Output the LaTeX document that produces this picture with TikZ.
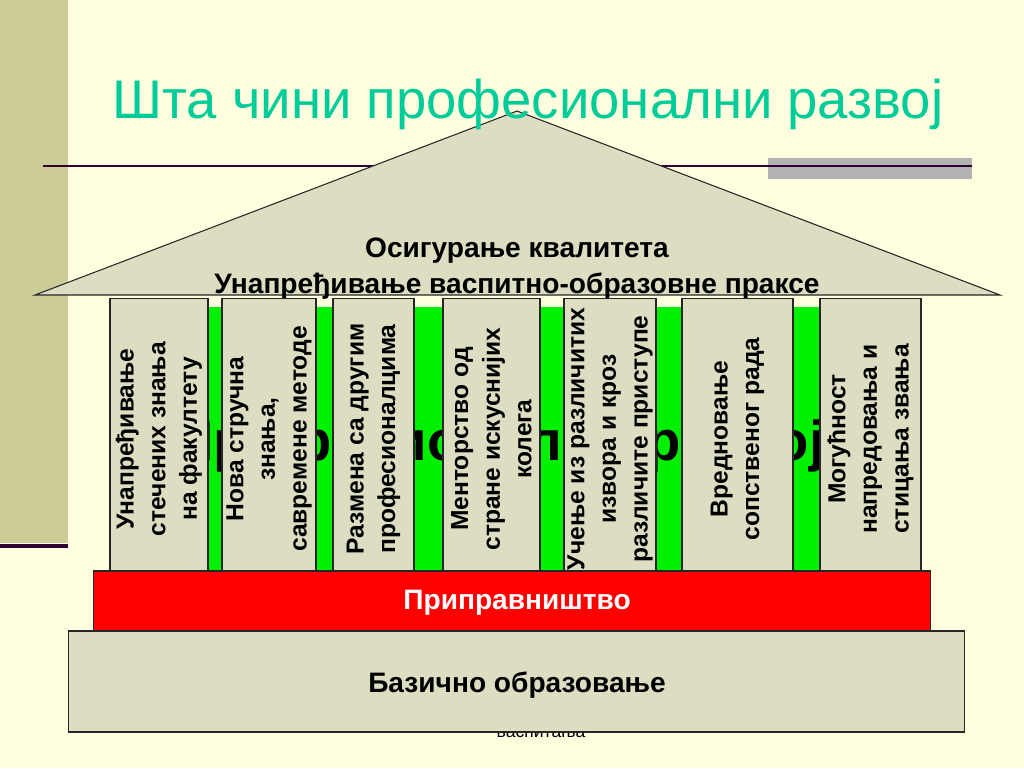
\documentclass[tikz,border=0pt]{standalone}
\usepackage{fontspec}
\setmainfont{Liberation Sans}
\usepackage{xcolor}
\usetikzlibrary{positioning}

\definecolor{slidebg}{RGB}{255,255,224}
\definecolor{bandcol}{RGB}{204,204,153}
\definecolor{rulecol}{RGB}{51,0,51}
\definecolor{stonecol}{RGB}{221,221,194}
\definecolor{titlecol}{RGB}{0,204,153}
\definecolor{pillargreen}{RGB}{0,240,0}

\begin{document}
\begin{tikzpicture}[
    x=0.02cm, y=-0.02cm,
    stone/.style={draw=black!85, line width=0.6pt, fill=stonecol},
    pillar/.style={stone, rectangle, inner sep=0pt, minimum height=5.48cm},
    pillartext/.style={align=center, font=\fontsize{14}{18}\selectfont\bfseries, inner sep=0pt},
    bigtext/.style={align=center, font=\fontsize{16}{20.4}\selectfont\bfseries}
]

% pozadina slajda
\useasboundingbox (0,0) rectangle (1024,768);
\fill[slidebg] (0,0) rectangle (1024,768);
\fill[bandcol] (0,0) rectangle (68,543);
\draw[rulecol, line width=2.2pt] (0,546) -- (68,546);
\fill[black!30] (768,158) rectangle (972,179);
\draw[rulecol, line width=1.6pt] (43,166) -- (972,166);

% krov
\draw[stone] (517,111) -- (35,295) -- (1000,295) -- cycle;
\node[bigtext] (roof) at (517,269) {Осигурање квалитета\\Унапређивање васпитно-образовне праксе};

% naslov
\node[text=titlecol, font=\fontsize{31}{36}\selectfont, anchor=base] (title) at (528,118) {Шта чини професионални развој};

% zelena pozadina i tekst iza stubova
\fill[pillargreen] (150,307) rectangle (900,572);
\node[font=\fontsize{32}{36}\selectfont\bfseries, anchor=base] (razvoj) at (499,460) {Професионални развој};

% stubovi
\foreach \name/\l/\r/\txt in {
    p1/110/208/{Унапређивање\\стечених знања\\на факултету},
    p2/222/316/{Нова стручна\\знања,\\савремене методе},
    p3/333/414/{Размена са другим\\професионалцима},
    p4/443/540/{Менторство од\\стране искуснијих\\колега},
    p5/564/656/{Учење из различитих\\извора и кроз\\различите приступе},
    p6/682/793/{Вредновање\\сопственог рада},
    p7/820/921/{Могућност\\напредовања и\\стицања звања}}
{
    \node[pillar, minimum width={(\r-\l)*0.02cm}] (\name) at ({(\l+\r)/2},435) {};
    \node[pillartext, rotate=90] (\name txt) at ([yshift=-0.08cm]\name.center) {\txt};
}

% pripravnistvo
\node[draw=black!85, line width=0.6pt, fill=red, inner sep=0pt, minimum width=16.76cm, minimum height=1.2cm] (staz) at (512,601) {};
\node[bigtext, text=white] (stazlabel) at (517,603) {Приправништво};

% sitan tekst ispod osnove
\node[font=\fontsize{10}{12}\selectfont, anchor=base] (vaspitanja) at (541,737) {васпитања};

% osnova
\node[stone, inner sep=0pt, minimum width=17.94cm, minimum height=2.02cm] (base) at (516.5,681.5) {};
\node[bigtext] (baselabel) at (517,685) {Базично образовање};

\end{tikzpicture}
\end{document}
